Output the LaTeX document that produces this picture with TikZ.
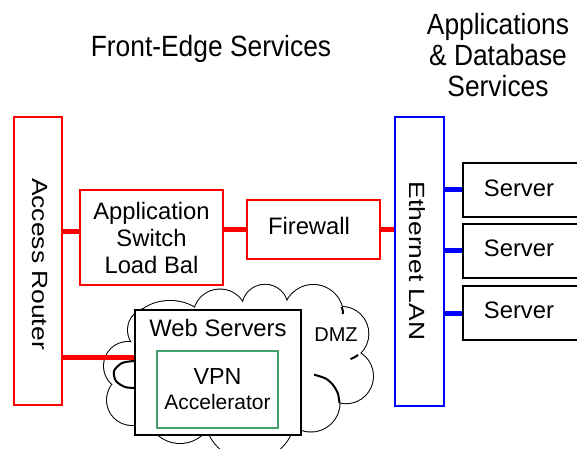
\documentclass[tikz,border=0pt]{standalone}
\usepackage{fontspec}
\setmainfont{Liberation Sans}
\newfontfamily\titlefont{Liberation Sans}[FakeStretch=0.9]
\newfontfamily\sidefont{Liberation Sans}[FakeStretch=1.2]
\definecolor{netred}{RGB}{255,0,0}
\definecolor{netblue}{RGB}{0,0,255}
\definecolor{vpngreen}{RGB}{70,160,110}
\begin{document}
\begin{tikzpicture}[x=1bp,y=-1bp,
  redbox/.style={draw=netred,line width=1.5bp,fill=white,inner sep=0pt},
  bluebox/.style={draw=netblue,line width=1.5bp,fill=white,inner sep=0pt},
  srvbox/.style={draw=black,line width=2bp,fill=white,inner sep=0pt,minimum width=132bp,minimum height=54bp},
  wsbox/.style={draw=black,line width=2.5bp,fill=white,inner sep=0pt},
  vpnbox/.style={draw=vpngreen,line width=1.5bp,fill=white,inner sep=0pt},
  redlink/.style={draw=netred,line width=5bp},
  bluelink/.style={draw=netblue,line width=5bp},
  cloudline/.style={draw=black,line width=2bp},
  boxtext/.style={font=\fontsize{23.8bp}{27bp}\selectfont,align=center,inner sep=0pt},
  titletext/.style={font=\titlefont\fontsize{29.3bp}{31bp}\selectfont,align=center,inner sep=0pt},
  sidetext/.style={font=\sidefont\fontsize{22bp}{22bp}\selectfont,rotate=-90,inner sep=0pt}]

\useasboundingbox (0,0) rectangle (577,449);
\clip (0,0) rectangle (577,449);

% DMZ cloud: outline of a union of bumps, then white fill over the inner strokes
\foreach \cx/\cy/\r in {220/316/26.5, 265/307.5/22.7, 313.3/314.7/29.7, 341.4/333.8/26.9,
    346/376.2/27, 311/403/28.5, 250/415/45, 180/410/33, 132/400/25, 128/366/24, 150/330/22}
  \draw[cloudline] (\cx,\cy) circle[radius=\r bp];
\draw[cloudline] (170,330) ellipse[x radius=38.4bp,y radius=29bp];
\foreach \cx/\cy/\r in {220/316/26.5, 265/307.5/22.7, 313.3/314.7/29.7, 341.4/333.8/26.9,
    346/376.2/27, 311/403/28.5, 250/415/45, 180/410/33, 132/400/25, 128/366/24, 150/330/22}
  \fill[white] (\cx,\cy) circle[radius=\r bp];
\fill[white] (170,330) ellipse[x radius=38.4bp,y radius=29bp];
\fill[white] (170,330) -- (220,316) -- (265,307.5) -- (313.3,314.7) -- (341.4,333.8)
  -- (346,376.2) -- (311,403) -- (250,415) -- (180,410) -- (132,400) -- (128,366)
  -- (150,330) -- cycle;
% inner creases of the cloud
\draw[cloudline] plot[smooth] coordinates {(134,361) (122,363) (114,371) (116,381) (125,387) (135,388)};
\draw[cloudline] plot[smooth] coordinates {(314,374.7) (325.3,378.3) (332.8,384.7) (337.8,393.3) (339.5,403)};
\draw[cloudline] plot[smooth] coordinates {(341.7,307) (342.8,311) (343,314)};
\draw[cloudline] plot[smooth] coordinates {(358,355) (354.4,357.3) (350.6,359.1)};
\node[font=\fontsize{20bp}{20bp}\selectfont,inner sep=0pt] (dmz) at (336,335) {DMZ};

% section headings
\node[titletext,anchor=base] (front) at (211,57) {Front-Edge Services};
\node[titletext] (back) at (498,55.5) {Applications\\\& Database\\Services};

% front-edge devices
\node[redbox,minimum width=48bp,minimum height=288bp] (ar) at (38,261) {};
\node[sidetext] (artext) at (40,264) {Access Router};
\node[redbox,boxtext,minimum width=143bp,minimum height=95bp] (app) at (151.5,237.5)
  {Application\\Switch\\Load Bal};
\node[redbox,minimum width=133bp,minimum height=59bp] (fw) at (313.5,229.5) {};
\node[boxtext] (fwtext) at (309,226) {Firewall};

% web servers in the DMZ
\node[wsbox,minimum width=166bp,minimum height=125bp] (ws) at (218,372.5) {};
\node[boxtext] (wstext) at (218,328) {Web Servers};
\node[vpnbox,align=center,font=\fontsize{21bp}{25bp}\selectfont,minimum width=121bp,minimum height=77bp]
  (vpn) at (217.5,389.5) {{\fontsize{23.3bp}{25bp}\selectfont VPN}\\Accelerator};

% back-end LAN and servers
\node[bluebox,minimum width=49bp,minimum height=289bp] (eth) at (419.5,261.5) {};
\node[sidetext] (ethtext) at (417,261) {Ethernet LAN};
\node[srvbox] (s1) at (529,190) {};
\node[srvbox] (s2) at (529,251) {};
\node[srvbox] (s3) at (529,313) {};
\node[boxtext] (s1text) at (519,188.5) {Server};
\node[boxtext] (s2text) at (519,248.5) {Server};
\node[boxtext] (s3text) at (519,310) {Server};

% links
\coordinate (appin) at ([yshift=5.5bp]app.west);
\coordinate (wsin) at ([yshift=15.5bp]ws.west);
\draw[redlink] (appin -| ar.east) -- (appin);
\draw[redlink] (wsin -| ar.east) -- (wsin);
\draw[redlink] (fw.west -| app.east) -- (fw.west);
\draw[redlink] (fw.east) -- (fw.east -| eth.west);
\draw[bluelink] (s1.west -| eth.east) -- (s1.west);
\draw[bluelink] (s2.west -| eth.east) -- (s2.west);
\draw[bluelink] (s3.west -| eth.east) -- (s3.west);
\end{tikzpicture}
\end{document}
